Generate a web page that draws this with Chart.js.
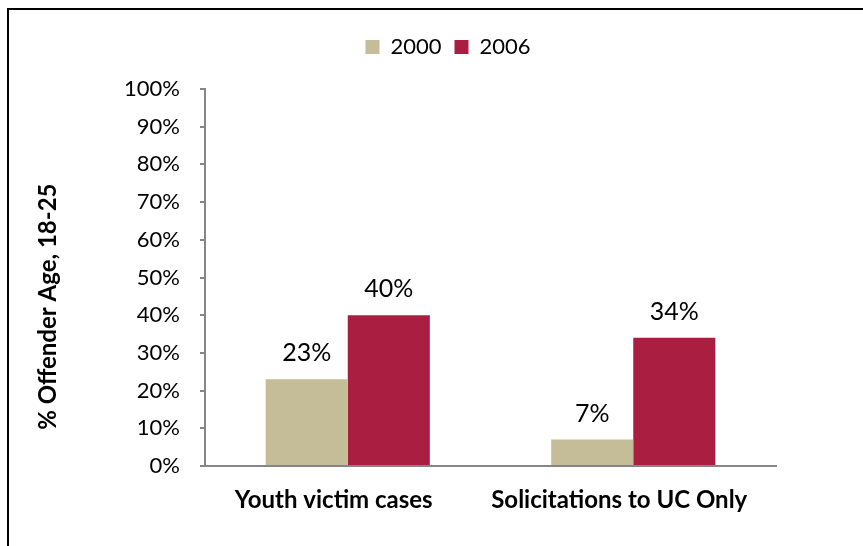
<!DOCTYPE html>
<html>
<head>
<meta charset="utf-8">
<script src="https://cdn.jsdelivr.net/npm/chart.js@4/dist/chart.umd.min.js"></script>
<style>
html, body { margin: 0; padding: 0; background: #fff; }
#wrap { position: relative; width: 863px; height: 546px; overflow: hidden; }
#frame { position: absolute; left: 7px; top: 8px; right: -10px; bottom: -10px; border-left: 2px solid #000; border-top: 2px solid #000; }
#myChart { position: absolute; left: 0; top: 0; }
</style>
</head>
<body>
<div id="wrap">
  <div id="frame"></div>
  <canvas id="myChart" width="863" height="546"></canvas>
</div>
<script>
const categories = ['Youth victim cases', 'Solicitations to UC Only'];
const seriesNames = ['2000', '2006'];
const values2000 = [23, 7];
const values2006 = [40, 34];
const seriesColors = ['#C4BD97', '#AA1E41'];
const yMax = 100;
const yStep = 10;

const FONT = 'Lato, "Open Sans", sans-serif';

// percent labels above each bar
const valueLabels = {
  id: 'valueLabels',
  afterDatasetsDraw(chart) {
    const ctx = chart.ctx;
    ctx.save();
    ctx.font = '25px ' + FONT;
    ctx.fillStyle = '#000';
    ctx.textAlign = 'center';
    ctx.textBaseline = 'alphabetic';
    chart.data.datasets.forEach((ds, i) => {
      chart.getDatasetMeta(i).data.forEach((bar, j) => {
        ctx.fillText(ds.data[j] + '%', bar.x, bar.y - 18);
      });
    });
    ctx.restore();
  }
};

// legend sits right of the plot centre and higher than its layout slot
const legendShift = {
  id: 'legendShift',
  afterLayout(chart) {
    const lg = chart.legend;
    lg.left += 60;
    lg.right += 60;
    lg.top -= 21;
    lg.bottom -= 21;
  }
};

new Chart(document.getElementById('myChart'), {
  type: 'bar',
  data: {
    labels: categories,
    datasets: [
      { label: seriesNames[0], data: values2000, backgroundColor: seriesColors[0] },
      { label: seriesNames[1], data: values2006, backgroundColor: seriesColors[1] }
    ]
  },
  options: {
    responsive: false,
    animation: false,
    layout: { padding: { left: 0, right: 87, top: 44, bottom: 0 } },
    datasets: { bar: { categoryPercentage: 0.575, barPercentage: 1 } },
    plugins: {
      legend: {
        position: 'top',
        labels: {
          boxWidth: 14,
          boxHeight: 14,
          padding: 13,
          color: '#000',
          font: { family: FONT, size: 22 }
        }
      },
      tooltip: { enabled: false }
    },
    scales: {
      x: {
        grid: { display: false },
        border: { display: true, color: '#868686', width: 2 },
        ticks: {
          color: '#000',
          padding: 12,
          labelOffset: -14,
          font: { family: FONT, size: 24, weight: 'bold' }
        },
        afterFit(scale) { scale.height = 80; }
      },
      y: {
        min: 0,
        max: yMax,
        ticks: {
          stepSize: yStep,
          color: '#000',
          padding: 20,
          font: { family: FONT, size: 22 },
          callback: v => v + '%'
        },
        grid: {
          drawOnChartArea: false,
          drawTicks: true,
          tickLength: 5,
          color: '#868686',
          lineWidth: 2
        },
        border: { display: true, color: '#868686', width: 2 },
        title: {
          display: true,
          text: '% Offender Age, 18-25          ',
          color: '#000',
          font: { family: FONT, size: 24, weight: 'bold' },
          padding: { top: 34, bottom: 0 }
        },
        afterFit(scale) { scale.width = 205; }
      }
    }
  },
  plugins: [valueLabels, legendShift]
});
</script>
</body>
</html>
